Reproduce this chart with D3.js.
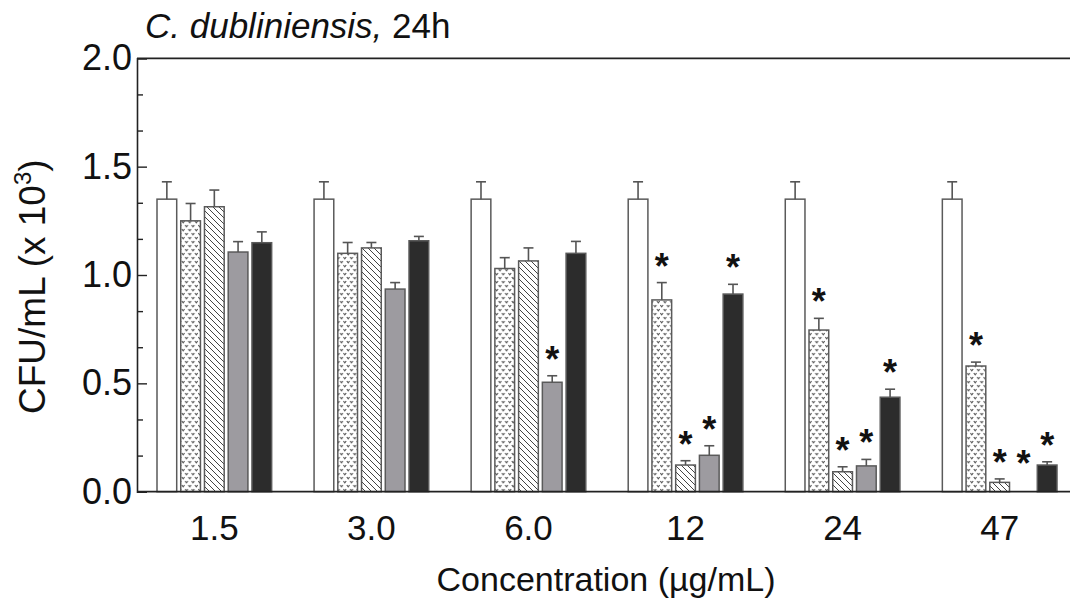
<!DOCTYPE html>
<html>
<head>
<meta charset="utf-8">
<script src="https://cdn.jsdelivr.net/npm/d3@7"></script>
<style>
  html, body { margin: 0; padding: 0; background: #fff; }
  svg text { font-family: "Liberation Sans", Arial, sans-serif; fill: #111; }
</style>
</head>
<body>
<svg id="chart" width="1070" height="603"></svg>
<script>
// ---- data ----
const concentrations = ["1.5", "3.0", "6.0", "12", "24", "47"];
const seriesNames = ["control", "dotted", "hatched", "grey", "black"];

const controlValues = [1.35, 1.35, 1.35, 1.35, 1.35, 1.35];
const controlErr    = [0.08, 0.08, 0.08, 0.08, 0.08, 0.08];
const controlSig    = [0, 0, 0, 0, 0, 0];

const dottedValues  = [1.25, 1.10, 1.03, 0.885, 0.746, 0.58];
const dottedErr     = [0.08, 0.05, 0.05, 0.08, 0.054, 0.018];
const dottedSig     = [0, 0, 0, 1, 1, 1];

const hatchedValues = [1.315, 1.125, 1.065, 0.123, 0.092, 0.043];
const hatchedErr    = [0.077, 0.025, 0.06, 0.02, 0.023, 0.016];
const hatchedSig    = [0, 0, 0, 1, 1, 1];

const greyValues    = [1.106, 0.935, 0.505, 0.168, 0.119, 0.0];
const greyErr       = [0.048, 0.03, 0.03, 0.044, 0.03, 0.055];
const greySig       = [0, 0, 1, 1, 1, 1];

const blackValues   = [1.149, 1.158, 1.10, 0.912, 0.436, 0.123];
const blackErr      = [0.05, 0.02, 0.055, 0.045, 0.037, 0.015];
const blackSig      = [0, 0, 0, 1, 1, 1];

const yTickValues = [0, 0.5, 1.0, 1.5, 2.0];
const titleItalic = "C. dubliniensis,";
const titleNormal = " 24h";
const xTitle = "Concentration (µg/mL)";

const seriesData = {
  control: { v: controlValues, e: controlErr, s: controlSig },
  dotted:  { v: dottedValues,  e: dottedErr,  s: dottedSig },
  hatched: { v: hatchedValues, e: hatchedErr, s: hatchedSig },
  grey:    { v: greyValues,    e: greyErr,    s: greySig },
  black:   { v: blackValues,   e: blackErr,   s: blackSig }
};

const rows = [];
concentrations.forEach((c, i) => {
  seriesNames.forEach(s => {
    rows.push({ conc: c, series: s, value: seriesData[s].v[i], err: seriesData[s].e[i], sig: seriesData[s].s[i] });
  });
});

// ---- layout ----
const svg = d3.select("#chart");
const axisX = 137, yTop = 58.3, yBottom = 491.7, rightEdge = 1070;

const y = d3.scaleLinear().domain([0, 2]).range([yBottom, yTop]);
const xGroup = d3.scaleBand().domain(concentrations).range([157, 1057]).paddingInner(0.27).paddingOuter(0);
const xInner = d3.scaleBand().domain(seriesNames).range([0, xGroup.bandwidth()]).paddingInner(0.17);

// ---- patterns ----
const defs = svg.append("defs");
const pd = defs.append("pattern").attr("id", "pat-dotted").attr("patternUnits", "userSpaceOnUse")
  .attr("width", 6.6).attr("height", 8);
pd.append("rect").attr("width", 6.6).attr("height", 8).attr("fill", "#fff");
pd.append("path").attr("d", "M0.3,1 L1.65,2.8 L3,1 M3.6,5 L4.95,6.8 L6.3,5")
  .attr("fill", "none").attr("stroke", "#555").attr("stroke-width", 1.1);

const ph = defs.append("pattern").attr("id", "pat-hatched").attr("patternUnits", "userSpaceOnUse")
  .attr("width", 6).attr("height", 6);
ph.append("rect").attr("width", 6).attr("height", 6).attr("fill", "#fff");
ph.append("path").attr("d", "M0,0 L6,6 M-1,5 L1,7 M5,-1 L7,1")
  .attr("fill", "none").attr("stroke", "#444").attr("stroke-width", 1);

const fills = {
  control: "#ffffff",
  dotted: "url(#pat-dotted)",
  hatched: "url(#pat-hatched)",
  grey: "#9d9ba0",
  black: "#2c2c2c"
};

// ---- bars ----
const bx = d => xGroup(d.conc) + xInner(d.series);
const barRows = rows.filter(d => d.value > 0);

svg.append("g").selectAll("rect").data(barRows).join("rect")
  .attr("x", bx)
  .attr("y", d => y(d.value))
  .attr("width", xInner.bandwidth())
  .attr("height", d => y(0) - y(d.value))
  .attr("fill", d => fills[d.series])
  .attr("stroke", "#5a5a5a")
  .attr("stroke-width", 1.5);

// error bars (upper only)
const eg = svg.append("g").attr("stroke", "#555").attr("stroke-width", 1.6).attr("fill", "none");
eg.selectAll("line.whisk").data(barRows).join("line").attr("class", "whisk")
  .attr("x1", d => bx(d) + xInner.bandwidth() / 2)
  .attr("x2", d => bx(d) + xInner.bandwidth() / 2)
  .attr("y1", d => y(d.value))
  .attr("y2", d => y(d.value + d.err));
eg.selectAll("line.cap").data(barRows).join("line").attr("class", "cap")
  .attr("x1", d => bx(d) + xInner.bandwidth() / 2 - 5)
  .attr("x2", d => bx(d) + xInner.bandwidth() / 2 + 5)
  .attr("y1", d => y(d.value + d.err))
  .attr("y2", d => y(d.value + d.err));

// significance stars
svg.append("g").selectAll("text").data(rows.filter(d => d.sig)).join("text")
  .attr("x", d => bx(d) + xInner.bandwidth() / 2)
  .attr("y", d => y(d.value + d.err) - 4)
  .attr("text-anchor", "middle")
  .style("font-size", "36px")
  .style("font-weight", "bold")
  .text("*");

// ---- axes ----
const yAxis = d3.axisLeft(y).tickValues(yTickValues).tickFormat(d3.format(".1f"))
  .tickSize(-10).tickPadding(5);
const gy = svg.append("g").attr("transform", `translate(${axisX},0)`).call(yAxis);
gy.select(".domain").attr("stroke", "#222").attr("stroke-width", 1.6);
gy.selectAll(".tick line").attr("stroke", "#222").attr("stroke-width", 1.4);
gy.selectAll(".tick text").style("font-size", "36px").attr("fill", "#111")
  .style("font-family", "'Liberation Sans', Arial, sans-serif");

const minorTicks = d3.range(0, 2.0001, 1 / 6).filter(v => Math.abs(v * 2 - Math.round(v * 2)) > 1e-6);
const yMinor = d3.axisLeft(y).tickValues(minorTicks).tickFormat("").tickSize(-6);
const gym = svg.append("g").attr("transform", `translate(${axisX},0)`).call(yMinor);
gym.select(".domain").remove();
gym.selectAll(".tick line").attr("stroke", "#222").attr("stroke-width", 1.4);

// frame lines (top & bottom)
svg.append("line").attr("x1", axisX).attr("x2", rightEdge).attr("y1", y(2)).attr("y2", y(2))
  .attr("stroke", "#222").attr("stroke-width", 1.8);
svg.append("line").attr("x1", axisX).attr("x2", rightEdge).attr("y1", y(0)).attr("y2", y(0))
  .attr("stroke", "#222").attr("stroke-width", 1.8);

// x labels (centered under each group)
svg.append("g").selectAll("text").data(concentrations).join("text")
  .attr("x", d => xGroup(d) + xGroup.bandwidth() / 2)
  .attr("y", 540)
  .attr("text-anchor", "middle")
  .style("font-size", "35px")
  .text(d => d);

// x title
svg.append("text").attr("x", 606).attr("y", 591).attr("text-anchor", "middle")
  .style("font-size", "34px").text(xTitle);

// y title
const yt = svg.append("text").attr("transform", "translate(45,414) rotate(-90)")
  .attr("text-anchor", "start").style("font-size", "37px");
yt.append("tspan").text("CFU/mL (x 10");
yt.append("tspan").attr("dy", -14).style("font-size", "24px").text("3");
yt.append("tspan").attr("dy", 14).text(")");

// chart title
const tt = svg.append("text").attr("x", 145).attr("y", 38).style("font-size", "35px");
tt.append("tspan").style("font-style", "italic").text(titleItalic);
tt.append("tspan").text(titleNormal);
</script>
</body>
</html>
